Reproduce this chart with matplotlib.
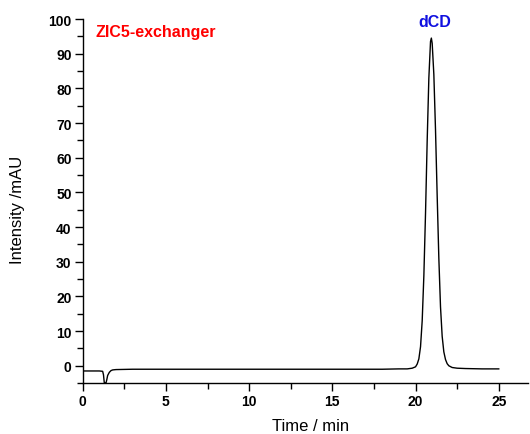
import matplotlib
matplotlib.use("Agg")
import matplotlib.pyplot as plt

plt.rcParams['font.family'] = ['Liberation Sans', 'DejaVu Sans']

# chromatogram trace (time in min, intensity in mAU)
time_min = [0.0, 0.5, 1.0, 1.2, 1.25, 1.3, 1.35, 1.4, 1.45, 1.5, 1.6, 1.7, 1.8,
            2.0, 3.0, 4.0, 5.0, 6.0, 7.0, 8.0, 9.0, 10.0, 11.0, 12.0, 13.0,
            14.0, 15.0, 16.0, 17.0, 18.0, 19.0, 19.5, 19.8, 20.0, 20.1, 20.2,
            20.3, 20.4, 20.5, 20.6, 20.7, 20.8, 20.9, 20.95, 21.0, 21.1, 21.2,
            21.3, 21.4, 21.5, 21.6, 21.7, 21.8, 21.9, 22.0, 22.2, 22.5, 23.0,
            24.0, 25.0]
intensity = [-1.5, -1.5, -1.5, -1.6, -2.6, -5.0, -5.0, -5.0, -4.0, -2.8, -1.9,
             -1.4, -1.2, -1.1, -1.0, -1.0, -1.0, -1.0, -1.0, -1.0, -1.0, -1.0,
             -1.0, -1.0, -1.0, -1.0, -1.0, -1.0, -1.0, -1.0, -0.9, -0.9, -0.7,
             -0.3, 0.5, 2.0, 5.5, 13.0, 26.0, 44.0, 65.0, 83.0, 93.5, 94.5,
             93.0, 84.0, 68.0, 49.0, 31.0, 17.0, 8.5, 4.0, 1.8, 0.6, 0.0, -0.5,
             -0.7, -0.8, -0.9, -0.9]

fig = plt.figure(figsize=(5.3, 4.35), dpi=100)
ax = fig.add_axes([0.156, 0.117, 0.84, 0.837])
ax.plot(time_min, intensity, color="black", linewidth=1.0)

ax.set_xlim(0, 26.75)
ax.set_ylim(-5, 100)
ax.set_xticks(range(0, 26, 5))
ax.set_xticks([2.5, 7.5, 12.5, 17.5, 22.5], minor=True)
ax.set_yticks(range(0, 101, 10))
ax.set_yticks(range(-5, 100, 10), minor=True)

for s in ("top", "right"):
    ax.spines[s].set_visible(False)
for s in ("left", "bottom"):
    ax.spines[s].set_linewidth(1.0)
ax.tick_params(which="major", direction="out", length=6, width=1.0,
               labelsize=10, pad=2)
ax.tick_params(which="minor", direction="out", length=4, width=1.0)
for lab in ax.get_xticklabels() + ax.get_yticklabels():
    lab.set_fontweight("bold")

ax.set_xlabel("Time / min", fontsize=12)
ax.set_ylabel("Intensity /mAU", fontsize=12)
ax.xaxis.set_label_coords(0.511, -0.096)
ax.yaxis.set_label_coords(-0.129, 0.478)

ax.text(0.75, 96.5, "ZIC5-exchanger", color="red", fontweight="bold",
        fontsize=11.5, va="center", ha="left")
ax.text(21.15, 99.4, "dCD", color="#1010e0", fontweight="bold",
        fontsize=11.5, va="center", ha="center")

fig.savefig("out.png", dpi=100)
